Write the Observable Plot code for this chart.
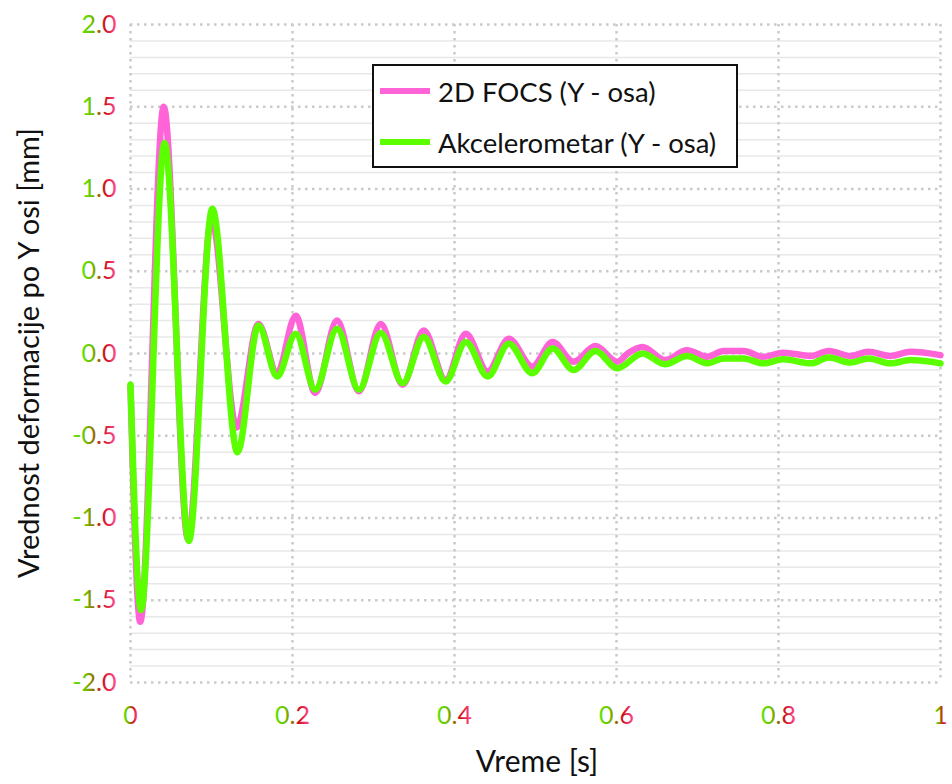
<!DOCTYPE html>
<html>
<head>
<meta charset="utf-8">
<script src="https://cdn.jsdelivr.net/npm/d3@7"></script>
<script src="https://cdn.jsdelivr.net/npm/@observablehq/plot@0.6"></script>
<style>
  html, body { margin: 0; padding: 0; background: #fff; }
  #wrap { position: relative; width: 952px; height: 784px; font-family: Lato, "Open Sans", sans-serif; }
  #legend { position: absolute; left: 372px; top: 64px; width: 362px; height: 100px; border: 2px solid #111; background: #fff; }
  .row { position: absolute; left: 6px; height: 40px; display: flex; align-items: center; font-size: 27.5px; color: #111; white-space: nowrap; }
  .sw { width: 50px; height: 6px; margin-right: 8px; }
  #xlabel { position: absolute; left: 0; top: 742px; width: 1074px; text-align: center; font-size: 30px; color: #111; }
  #ylabel { position: absolute; left: 27px; top: 353px; transform: translate(-50%, -50%) rotate(-90deg); white-space: nowrap; font-size: 29px; color: #111; }
</style>
</head>
<body>
<div id="wrap"></div>
<script>
// ---- data ----
const focsTime = [0, 0.012, 0.041, 0.071, 0.100, 0.131, 0.158, 0.181, 0.204, 0.228, 0.255, 0.282, 0.309, 0.336, 0.362, 0.389, 0.414, 0.441, 0.467, 0.496, 0.521, 0.547, 0.574, 0.601, 0.615, 0.632, 0.660, 0.687, 0.712, 0.732, 0.757, 0.781, 0.806, 0.840, 0.862, 0.889, 0.911, 0.938, 0.963, 1.0];
const focsValue = [-0.20, -1.63, 1.50, -1.13, 0.82, -0.45, 0.18, -0.12, 0.23, -0.24, 0.20, -0.23, 0.18, -0.19, 0.14, -0.16, 0.12, -0.11, 0.09, -0.08, 0.07, -0.05, 0.045, -0.05, 0.005, 0.04, -0.04, 0.02, -0.02, 0.015, 0.015, -0.02, 0.005, -0.015, 0.015, -0.015, 0.01, -0.015, 0.01, -0.01];
const accelTime = [0, 0.013, 0.042, 0.072, 0.101, 0.132, 0.158, 0.181, 0.204, 0.228, 0.255, 0.282, 0.309, 0.336, 0.362, 0.389, 0.414, 0.441, 0.467, 0.496, 0.521, 0.547, 0.574, 0.601, 0.632, 0.660, 0.687, 0.712, 0.732, 0.757, 0.781, 0.806, 0.840, 0.862, 0.889, 0.911, 0.938, 0.963, 1.0];
const accelValue = [-0.19, -1.56, 1.28, -1.14, 0.88, -0.60, 0.17, -0.14, 0.12, -0.22, 0.15, -0.22, 0.125, -0.18, 0.10, -0.17, 0.07, -0.14, 0.06, -0.12, 0.03, -0.10, 0.015, -0.09, 0.0, -0.065, -0.015, -0.06, -0.03, -0.03, -0.06, -0.035, -0.06, -0.025, -0.055, -0.03, -0.06, -0.04, -0.06];
const seriesNames = ["2D FOCS (Y - osa)", "Akcelerometar (Y - osa)"];
const seriesColors = ["#ff63d8", "#5cff00"];
const xTicks = [0, 0.2, 0.4, 0.6, 0.8, 1];
const xTickLabels = ["0", "0.2", "0.4", "0.6", "0.8", "1"];
const yTicks = [-2, -1.5, -1, -0.5, 0, 0.5, 1, 1.5, 2];
const yTickLabels = ["-2.0", "-1.5", "-1.0", "-0.5", "0.0", "0.5", "1.0", "1.5", "2.0"];
const yMinor = [-1.9, -1.8, -1.7, -1.6, -1.4, -1.3, -1.2, -1.1, -0.9, -0.8, -0.7, -0.6, -0.4, -0.3, -0.2, -0.1, 0.1, 0.2, 0.3, 0.4, 0.6, 0.7, 0.8, 0.9, 1.1, 1.2, 1.3, 1.4, 1.6, 1.7, 1.8, 1.9];
const xLabel = "Vreme [s]";
const yLabel = "Vrednost deformacije po Y osi [mm]";

const focs = focsTime.map((t, i) => ({t, v: focsValue[i]}));
const accel = accelTime.map((t, i) => ({t, v: accelValue[i]}));

const dotted = {stroke: "#cacaca", strokeWidth: 2.5, strokeDasharray: "2.5,4.5"};

const chart = Plot.plot({
  width: 952, height: 784,
  marginLeft: 130, marginRight: 12, marginTop: 24, marginBottom: 102,
  x: {domain: [0, 1]},
  y: {domain: [-2, 2]},
  style: {fontFamily: "Lato, 'Open Sans', sans-serif", background: "white", overflow: "visible"},
  marks: [
    Plot.ruleY(yMinor, {stroke: "#e8e8e8", strokeWidth: 1.5}),
    Plot.ruleY(yTicks, dotted),
    Plot.ruleX(xTicks, dotted),
    Plot.line(focs, {x: "t", y: "v", stroke: seriesColors[0], strokeWidth: 6.5, curve: "monotone-x"}),
    Plot.line(accel, {x: "t", y: "v", stroke: seriesColors[1], strokeWidth: 6.5, curve: "monotone-x"}),
    Plot.axisY(yTicks, {tickSize: 0, tickPadding: 14, fontSize: 25, label: null, tickFormat: d => yTickLabels[yTicks.indexOf(d)]}),
    Plot.axisX(xTicks, {tickSize: 0, tickPadding: 24, fontSize: 25, label: null, tickFormat: d => xTickLabels[xTicks.indexOf(d)]})
  ]
});

// gradient for tick labels (each label: green -> red -> pink)
const svg = d3.select(chart);
const defs = svg.insert("defs", ":first-child");
const grad = defs.append("linearGradient").attr("id", "tickgrad").attr("x1", 0).attr("x2", 1).attr("y1", 0).attr("y2", 0);
[[0, "#5ce600"], [0.3, "#6fc000"], [0.5, "#9a6a00"], [0.68, "#d0101c"], [1, "#ff4f9a"]].forEach(([o, c]) => grad.append("stop").attr("offset", o).attr("stop-color", c));
svg.selectAll("[aria-label='y-axis tick label'] text, [aria-label='x-axis tick label'] text").attr("fill", "url(#tickgrad)");

const wrap = document.getElementById("wrap");
wrap.appendChild(chart);

const legend = document.createElement("div");
legend.id = "legend";
seriesNames.forEach((name, i) => {
  const row = document.createElement("div");
  row.className = "row";
  row.style.top = (5 + i * 51) + "px";
  const sw = document.createElement("div");
  sw.className = "sw";
  sw.style.background = seriesColors[i];
  const tx = document.createElement("span");
  tx.textContent = name;
  row.appendChild(sw); row.appendChild(tx);
  legend.appendChild(row);
});
wrap.appendChild(legend);

const xl = document.createElement("div"); xl.id = "xlabel"; xl.textContent = xLabel; wrap.appendChild(xl);
const yl = document.createElement("div"); yl.id = "ylabel"; yl.textContent = yLabel; wrap.appendChild(yl);
</script>
</body>
</html>
